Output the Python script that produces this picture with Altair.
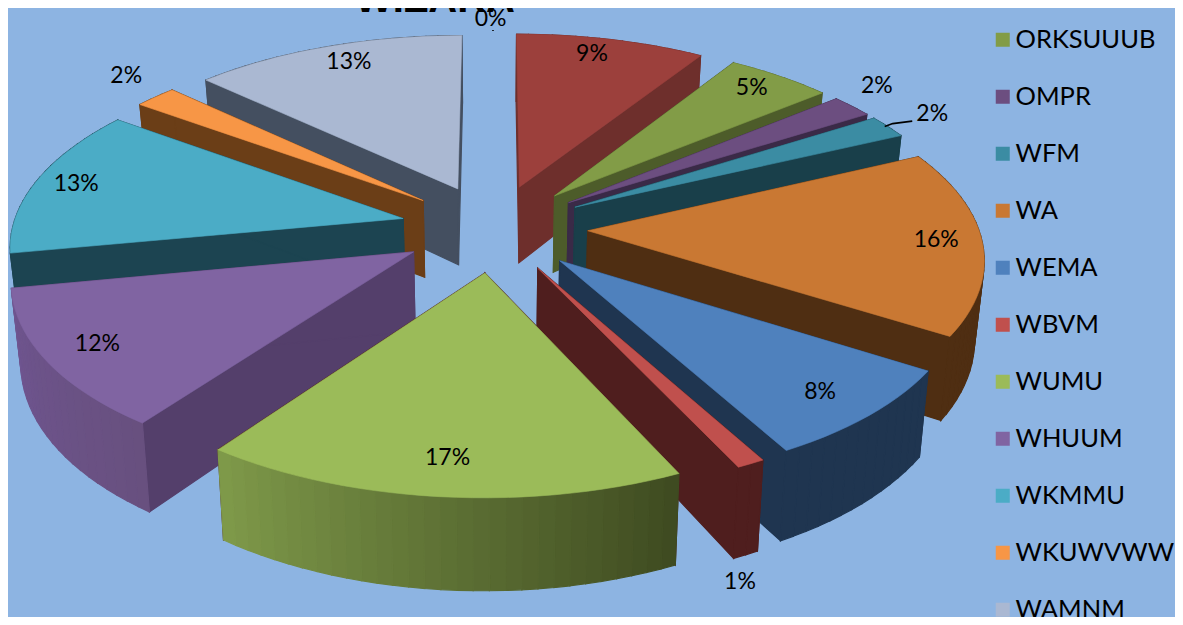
import math
import altair as alt

# ---------- chart values ----------
names = ["NULL", "WIZ", "ORKSUUUB", "OMPR", "WFM", "WA", "WEMA", "WBVM", "WUMU", "WHUUM", "WKMMU", "WKUWVWW", "WAMNM"]
values = [0, 9, 5, 2, 2, 16, 8, 1, 17, 12, 13, 2, 13]
labels = ["0%", "9%", "5%", "2%", "2%", "16%", "8%", "1%", "17%", "12%", "13%", "2%", "13%"]
legend_names = names[2:]
colors = ["#7F7F7F", "#9C403C", "#829C47", "#6C4E80", "#3B8CA3", "#C97833", "#4F81BD", "#C0504D",
          "#9BBB59", "#8064A2", "#4BACC6", "#F79646", "#AAB8D2"]
# wall shades: at slice start, at slice end, and radial walls
wall_start = ["#555555", "#6E2F2C", "#5A6B31", "#3F2D4B", "#1C4552", "#4F2E12", "#1F3550", "#4F1E1E",
              "#3E4A20", "#68507F", "#1B4450", "#6B3E17", "#444F60"]
wall_end = ["#555555", "#6E2F2C", "#4D5C2A", "#3A2A47", "#193F4A", "#4F2E12", "#1F3550", "#4F1E1E",
            "#7F9A4A", "#6F5590", "#1B4450", "#6B3E17", "#444F60"]
wall_radial = ["#555555", "#6E2F2C", "#4D5C2A", "#3A2A47", "#193F4A", "#4F2E12", "#1F3550", "#4F1E1E",
               "#4F1E1E", "#543F6B", "#1C4451", "#6B3E17", "#444F60"]
# label polar placement: clock angle (deg) and radius fraction
lab_a = [359, 13.7, 39.9, 50.6, 60.5, 93.3, 137.7, 163.9, 185.8, 238.2, 282.7, 311.8, 337.7]
lab_r = [1.104, 0.882, 0.875, 1.14, 1.143, 0.87, 0.85, 1.388, 0.847, 0.867, 0.893, 1.171, 0.875]
title = "WIZARA"
bg = "#8DB4E2"

# ---------- perspective pie model ----------
CX, CY, RX, RY, PERSP, EXPLODE, DEPTH, TAPER = 497, 228, 393, 182.7, 0.13, 0.24, 78, 0.02
# the shapes come out slightly wider than the text scale: compensate for shapes only
SHAPE_CX, SHAPE_XS = 494, 0.9939


def project(u, v, z=0.0):
    k = 1 / (1 - PERSP * v)
    return [CX + RX * u * k * (1 - TAPER * z), CY + RY * v * k + DEPTH * z * k]


def pt(mid, th, r, z=0.0):
    m, t = math.radians(mid), math.radians(th)
    u = EXPLODE * math.sin(m) + r * math.sin(t)
    v = -EXPLODE * math.cos(m) - r * math.cos(t)
    return project(u, v, z)


def feature(ring, **props):
    ring = [[SHAPE_CX + (p[0] - CX) * SHAPE_XS, p[1]] for p in ring]
    ring = ring + [ring[0]]
    return {"type": "Feature", "properties": props,
            "geometry": {"type": "Polygon", "coordinates": [ring]}}


def mix(a, b, f):
    ca = [int(a[i:i + 2], 16) for i in (1, 3, 5)]
    cb = [int(b[i:i + 2], 16) for i in (1, 3, 5)]
    return "#%02x%02x%02x" % tuple(round(x + (y - x) * f) for x, y in zip(ca, cb))


total = sum(values)
slices, cum = [], 0
for i, val in enumerate(values):
    a0 = 360 * cum / total
    a1 = 360 * (cum + val) / total
    cum += val
    slices.append((i, a0, a1, (a0 + a1) / 2))

walls, tops = [], []
order = sorted(slices[1:], key=lambda s: -math.cos(math.radians(s[3])))
for i, a0, a1, mid in order:
    n = max(2, int((a1 - a0) / 2))
    angs = [a0 + (a1 - a0) * j / n for j in range(n + 1)]
    strips = []
    for j in range(n):
        c = mix(wall_start[i], wall_end[i], (j + 0.5) / n)
        strips.append(feature([pt(mid, angs[j], 1, 0), pt(mid, angs[j + 1], 1, 0),
                               pt(mid, angs[j + 1], 1, 1), pt(mid, angs[j], 1, 1)], c=c))
    radial = [feature([pt(mid, a, 0, 0), pt(mid, a, 1, 0), pt(mid, a, 1, 1), pt(mid, a, 0, 1)], c=wall_radial[i])
              for a in (a0, a1)]
    back = math.cos(math.radians(mid)) > 0
    walls += (strips + radial) if back else (radial + strips)
    tops.append(feature([pt(mid, 0, 0)] + [pt(mid, a, 1) for a in angs], name=names[i]))

text_rows = []
for i, a0, a1, mid in slices:
    x, y = pt(mid, lab_a[i], lab_r[i])
    text_rows.append({"x": x, "y": y, "t": labels[i]})

# leader lines: 2% slice to its label, and the 0% tick
i4 = slices[4]
sx, sy = pt(i4[3], 60.5, 0.98)
lx, ly = pt(i4[3], 60.5, 1.143)
leader = [{"x": sx, "y": sy, "g": "a"}, {"x": sx + 8, "y": sy - 3, "g": "a"}, {"x": lx - 20, "y": ly + 7, "g": "a"}]
tx, ty = pt(0, 0, 1.0)
leader += [{"x": tx - 4, "y": ty - 3, "g": "b"}, {"x": tx - 4, "y": ty - 2, "g": "b"}]
title_rows = [{"x": pt(0, 0, 0.0)[0] - 62, "y": pt(0, 0, 1.24)[1] + 11, "t": title}]

PROJ = dict(type="identity", scale=1, translate=[-8, -8])
xs = alt.Scale(domain=[8, 1175], nice=False, zero=False)
ys = alt.Scale(domain=[8, 617], nice=False, zero=False, reverse=True)

wall_layer = alt.Chart(alt.Data(values=walls)).mark_geoshape(strokeWidth=1.2).encode(
    fill=alt.Fill("properties.c:N", scale=None),
    stroke=alt.Stroke("properties.c:N", scale=None),
).project(**PROJ)

top_layer = alt.Chart(alt.Data(values=tops)).mark_geoshape(strokeWidth=0.6).encode(
    fill=alt.Fill("properties.name:N", scale=alt.Scale(domain=names, range=colors),
                  legend=alt.Legend(values=legend_names, title=None, orient="none", legendX=982, legendY=19,
                                    symbolType="square", symbolSize=196, symbolStrokeWidth=0,
                                    labelFont="Lato", labelFontSize=25.5, labelColor="#000000", labelLimit=200,
                                    labelOffset=0, rowPadding=30, padding=0)),
    stroke=alt.Stroke("properties.name:N", scale=alt.Scale(domain=names, range=colors), legend=None),
).project(**PROJ)

text_layer = alt.Chart(alt.Data(values=text_rows)).mark_text(
    font="Lato", fontSize=23, color="#000000", baseline="middle", align="center"
).encode(x=alt.X("x:Q", scale=xs, axis=None), y=alt.Y("y:Q", scale=ys, axis=None), text="t:N")

title_layer = alt.Chart(alt.Data(values=title_rows)).mark_text(
    font="Liberation Sans", fontWeight="bold", fontSize=40, color="#000000", baseline="alphabetic", align="center"
).encode(x=alt.X("x:Q", scale=xs, axis=None), y=alt.Y("y:Q", scale=ys, axis=None), text="t:N")

line_layer = alt.Chart(alt.Data(values=leader)).mark_line(color="#000000", strokeWidth=1.6).encode(
    x=alt.X("x:Q", scale=xs, axis=None), y=alt.Y("y:Q", scale=ys, axis=None), detail="g:N"
)

chart = alt.layer(wall_layer, top_layer, line_layer, title_layer, text_layer).resolve_scale(
    fill="independent", stroke="independent"
).properties(
    width=1167, height=609, padding=0, autosize=alt.AutoSizeParams(type="none"), background=bg,
).configure_view(stroke=None)

chart.save("out.html", embed_options={"renderer": "svg", "actions": False})
